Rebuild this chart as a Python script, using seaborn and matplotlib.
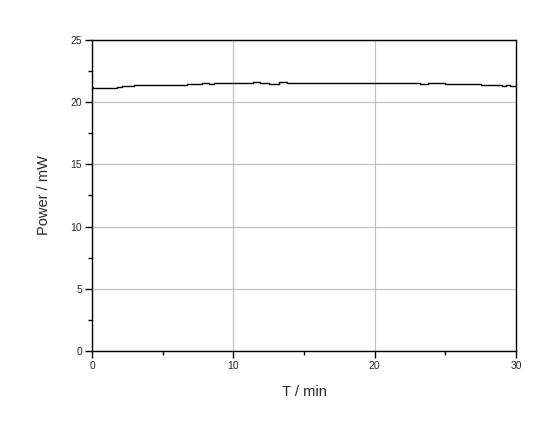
import pandas as pd
import seaborn as sns
import matplotlib.pyplot as plt
from matplotlib.ticker import MultipleLocator

# time (min) and laser power (mW)
tiempo = [0.0, 0.1, 0.3, 0.5, 0.7, 1.0, 1.4, 1.8, 2.1, 2.6, 3.0, 3.4,
          3.8, 4.0, 4.2, 4.5, 5.0, 5.5, 6.0, 6.4, 6.7, 7.2, 7.8, 8.3,
          8.6, 9.2, 9.8, 10.3, 10.9, 11.4, 11.9, 12.5, 13.2, 13.8, 14.4,
          15.0, 16.0, 17.0, 18.0, 19.0, 20.0, 20.8, 21.2, 21.6, 22.0,
          22.6, 23.2, 23.8, 24.4, 25.0, 25.6, 26.2, 26.8, 27.5, 28.0,
          28.5, 29.0, 29.3, 29.6, 30.0]
potencia = [21.2, 21.15, 21.1, 21.12, 21.1, 21.12, 21.16, 21.18, 21.26, 21.27, 21.34, 21.35,
            21.42, 21.38, 21.34, 21.35, 21.34, 21.35, 21.34, 21.36, 21.5, 21.5, 21.52, 21.5,
            21.57, 21.58, 21.55, 21.58, 21.57, 21.6, 21.58, 21.5, 21.6, 21.57, 21.56,
            21.57, 21.57, 21.57, 21.57, 21.57, 21.57, 21.52, 21.55, 21.57, 21.53,
            21.56, 21.5, 21.53, 21.52, 21.5, 21.48, 21.5, 21.45, 21.36, 21.35,
            21.35, 21.32, 21.4, 21.3, 21.38]

df = pd.DataFrame({'T': tiempo, 'P': potencia})

sns.set_style('white')
plt.rcParams['font.family'] = ['Liberation Sans', 'DejaVu Sans']

fig = plt.figure(figsize=(5.56, 4.32), dpi=100)
ax = fig.add_axes([0.1655, 0.1875, 0.7625, 0.72])

sns.lineplot(data=df, x='T', y='P', color='black', linewidth=1.0,
             drawstyle='steps-post', ax=ax)

ax.set_xlim(0, 30)
ax.set_ylim(0, 25)
ax.xaxis.set_major_locator(MultipleLocator(10))
ax.xaxis.set_minor_locator(MultipleLocator(5))
ax.yaxis.set_major_locator(MultipleLocator(5))
ax.yaxis.set_minor_locator(MultipleLocator(2.5))
ax.grid(True, which='major', color='#c0c0c0', linewidth=0.9)
ax.tick_params(which='both', direction='out', color='black', width=1,
               bottom=True, left=True, labelsize=7.5, pad=2)
ax.tick_params(which='major', length=5)
ax.tick_params(which='minor', length=3)
for s in ax.spines.values():
    s.set_color('black')
    s.set_linewidth(1.0)

ax.set_xlabel('T / min', fontsize=10.5, labelpad=10)
ax.set_ylabel('Power / mW', fontsize=10.5, labelpad=14)

fig.savefig('out.png', dpi=100)
